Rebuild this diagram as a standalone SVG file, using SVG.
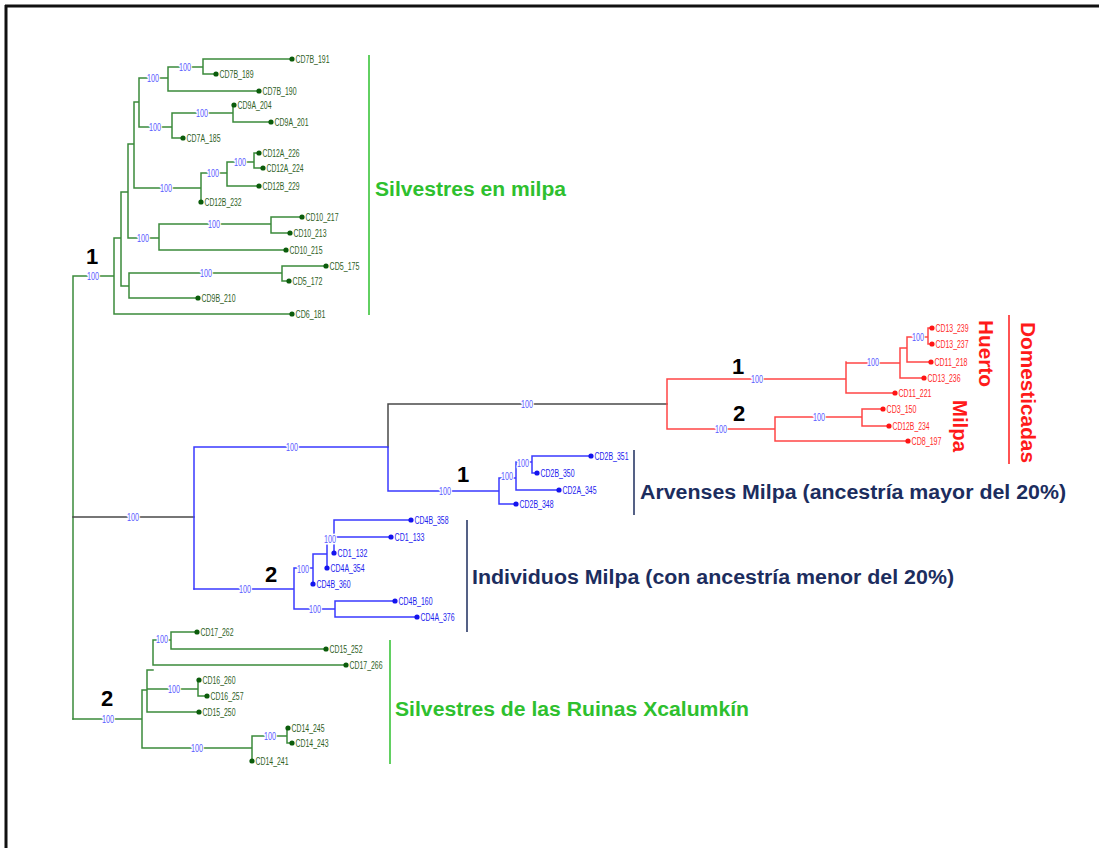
<svg xmlns="http://www.w3.org/2000/svg" width="1099" height="848" viewBox="0 0 1099 848">
<style>
.e{fill:none;stroke-width:1.5;stroke-linecap:square}
.eg{stroke:#3b8a3b}.eb{stroke:#3a3aff}.er{stroke:#ff4545}.ek{stroke:#4a4a4a}
.lf{font-family:"Liberation Sans",Arial,sans-serif;font-size:10px;lengthAdjust:spacingAndGlyphs}
.g circle{fill:#0b5c0b}.g text{fill:#2f5f1f}
.b circle{fill:#1414ee}.b text{fill:#2222ee}
.r circle{fill:#ff1414}.r text{fill:#ff2a2a}
.s{font-family:"Liberation Sans",Arial,sans-serif;font-size:10px;fill:#5b5bff;text-anchor:middle;stroke:#fff;stroke-width:3px;paint-order:stroke;stroke-linejoin:round}
.n{font-family:"Liberation Sans",Arial,sans-serif;font-size:22px;font-weight:bold;fill:#000;text-anchor:middle}
.c{font-family:"Liberation Sans",Arial,sans-serif;font-size:20px;font-weight:bold}
.cg{fill:#2ec02e}.cn{fill:#1c2d5e}.cr{fill:#ff1a1a}
</style>
<rect width="1099" height="848" fill="#fff"/>
<g id="frame">
<line x1="5" y1="6" x2="1099" y2="6" stroke="#111" stroke-width="3"/>
<line x1="6" y1="5" x2="6" y2="848" stroke="#111" stroke-width="3"/>
</g>
<g id="connectors">
<path class="e eg" d="M73,276V719M73,276H114M114,238V314M114,314H292M114,238H121M121,192V286M121,192H128M128,144V238M128,144H134M134,102V188M134,102H139M139,78V127M139,78H168M168,67V91M168,67H203M203,59V74M203,59H292M203,74H216M168,91H259M139,127H172M172,113V138M172,113H233M233,105V122M233,122H271M172,138H183M134,188H201M201,173V202M201,173H227M227,162V186M227,162H254M254,153V168M254,153H259M254,168H263M227,186H259M128,238H159M159,224V250M159,224H271M271,217V233M271,217H302M271,233H290M159,250H286M121,286H129M129,273V298M129,273H282M282,266V281M282,266H326M282,281H289M129,298H198"/>
<path class="e eg" d="M73,719H142M142,690V748M142,748H252M252,736V761M252,736H287M287,728V743M287,728H288M287,743H292M142,690H147M147,670V712M147,670H153M153,640V665M153,640H171M171,632V649M171,632H197M171,649H326M153,665H346M147,689H198M198,680V696M198,696H207M147,712H199"/>
<path class="e ek" d="M73,517H194M388,404V447M388,404H667"/>
<path class="e eb" d="M194,447V589M194,447H388M388,447V491M388,491H499M499,478V504M499,478H516M516,462V490M516,462H532M532,456V473M532,456H591M532,473H537M516,490H559M499,504H516"/>
<path class="e eb" d="M194,589H294M294,568V609M294,568H313M313,554V584M313,554H327M327,537V568M327,537H334M334,520V553M334,520H411M334,537H391M294,609H335M335,601V617M335,601H395M335,617H417"/>
<path class="e er" d="M667,379V429M667,379H846M846,362V393M846,393H895M846,363H900M900,348V378M900,378H924M900,348H907M907,337V362M907,362H931M907,337H928M928,328V344M928,328H932M928,344H932M667,429H775M775,417V441M775,441H908M775,417H862M862,409V426M862,409H883M862,426H889"/>
</g>
<g id="support">
<text class="s" x="93" y="279.5" textLength="12" lengthAdjust="spacingAndGlyphs">100</text>
<text class="s" x="153" y="81.5" textLength="12" lengthAdjust="spacingAndGlyphs">100</text>
<text class="s" x="185" y="70.5" textLength="12" lengthAdjust="spacingAndGlyphs">100</text>
<text class="s" x="155" y="130.5" textLength="12" lengthAdjust="spacingAndGlyphs">100</text>
<text class="s" x="202" y="116.5" textLength="12" lengthAdjust="spacingAndGlyphs">100</text>
<text class="s" x="166" y="191.5" textLength="12" lengthAdjust="spacingAndGlyphs">100</text>
<text class="s" x="213" y="176.5" textLength="12" lengthAdjust="spacingAndGlyphs">100</text>
<text class="s" x="240" y="165.5" textLength="12" lengthAdjust="spacingAndGlyphs">100</text>
<text class="s" x="143" y="241.5" textLength="12" lengthAdjust="spacingAndGlyphs">100</text>
<text class="s" x="214" y="227.5" textLength="12" lengthAdjust="spacingAndGlyphs">100</text>
<text class="s" x="206" y="276.5" textLength="12" lengthAdjust="spacingAndGlyphs">100</text>
<text class="s" x="133" y="520.5" textLength="12" lengthAdjust="spacingAndGlyphs">100</text>
<text class="s" x="292" y="450.5" textLength="12" lengthAdjust="spacingAndGlyphs">100</text>
<text class="s" x="527" y="407.5" textLength="12" lengthAdjust="spacingAndGlyphs">100</text>
<text class="s" x="445" y="494.5" textLength="12" lengthAdjust="spacingAndGlyphs">100</text>
<text class="s" x="507" y="479.5" textLength="12" lengthAdjust="spacingAndGlyphs">100</text>
<text class="s" x="523" y="466.5" textLength="12" lengthAdjust="spacingAndGlyphs">100</text>
<text class="s" x="245" y="592.5" textLength="12" lengthAdjust="spacingAndGlyphs">100</text>
<text class="s" x="303" y="572.5" textLength="12" lengthAdjust="spacingAndGlyphs">100</text>
<text class="s" x="330" y="542.5" textLength="12" lengthAdjust="spacingAndGlyphs">100</text>
<text class="s" x="315" y="612.5" textLength="12" lengthAdjust="spacingAndGlyphs">100</text>
<text class="s" x="757" y="382.5" textLength="12" lengthAdjust="spacingAndGlyphs">100</text>
<text class="s" x="873" y="365.5" textLength="12" lengthAdjust="spacingAndGlyphs">100</text>
<text class="s" x="918" y="340.5" textLength="12" lengthAdjust="spacingAndGlyphs">100</text>
<text class="s" x="721" y="432.5" textLength="12" lengthAdjust="spacingAndGlyphs">100</text>
<text class="s" x="819" y="420.5" textLength="12" lengthAdjust="spacingAndGlyphs">100</text>
<text class="s" x="108" y="722.5" textLength="12" lengthAdjust="spacingAndGlyphs">100</text>
<text class="s" x="197" y="751.5" textLength="12" lengthAdjust="spacingAndGlyphs">100</text>
<text class="s" x="270" y="739.5" textLength="12" lengthAdjust="spacingAndGlyphs">100</text>
<text class="s" x="162" y="642.5" textLength="12" lengthAdjust="spacingAndGlyphs">100</text>
<text class="s" x="174" y="692.5" textLength="12" lengthAdjust="spacingAndGlyphs">100</text>
</g>
<g id="clusters">
<text class="n" x="92" y="264">1</text>
<text class="n" x="107" y="706">2</text>
<text class="n" x="738" y="374">1</text>
<text class="n" x="739" y="421">2</text>
<text class="n" x="463" y="482">1</text>
<text class="n" x="271" y="582">2</text>
</g>
<g id="leaves-top" class="g">
<g id="CD7B_191"><circle cx="292" cy="59" r="2.6"/><text class="lf" x="295.5" y="62.5" textLength="34" lengthAdjust="spacingAndGlyphs">CD7B_191</text></g>
<g id="CD7B_189"><circle cx="216" cy="74" r="2.6"/><text class="lf" x="219.5" y="77.5" textLength="34" lengthAdjust="spacingAndGlyphs">CD7B_189</text></g>
<g id="CD7B_190"><circle cx="259" cy="91" r="2.6"/><text class="lf" x="262.5" y="94.5" textLength="34" lengthAdjust="spacingAndGlyphs">CD7B_190</text></g>
<g id="CD9A_204"><circle cx="234" cy="105" r="2.6"/><text class="lf" x="237.5" y="108.5" textLength="34" lengthAdjust="spacingAndGlyphs">CD9A_204</text></g>
<g id="CD9A_201"><circle cx="271" cy="122" r="2.6"/><text class="lf" x="274.5" y="125.5" textLength="34" lengthAdjust="spacingAndGlyphs">CD9A_201</text></g>
<g id="CD7A_185"><circle cx="183" cy="138" r="2.6"/><text class="lf" x="186.5" y="141.5" textLength="34" lengthAdjust="spacingAndGlyphs">CD7A_185</text></g>
<g id="CD12A_226"><circle cx="259" cy="153" r="2.6"/><text class="lf" x="262.5" y="156.5" textLength="37" lengthAdjust="spacingAndGlyphs">CD12A_226</text></g>
<g id="CD12A_224"><circle cx="263" cy="168" r="2.6"/><text class="lf" x="266.5" y="171.5" textLength="37" lengthAdjust="spacingAndGlyphs">CD12A_224</text></g>
<g id="CD12B_229"><circle cx="259" cy="186" r="2.6"/><text class="lf" x="262.5" y="189.5" textLength="37" lengthAdjust="spacingAndGlyphs">CD12B_229</text></g>
<g id="CD12B_232"><circle cx="201" cy="202" r="2.6"/><text class="lf" x="204.5" y="205.5" textLength="37" lengthAdjust="spacingAndGlyphs">CD12B_232</text></g>
<g id="CD10_217"><circle cx="302" cy="217" r="2.6"/><text class="lf" x="305.5" y="220.5" textLength="33" lengthAdjust="spacingAndGlyphs">CD10_217</text></g>
<g id="CD10_213"><circle cx="290" cy="233" r="2.6"/><text class="lf" x="293.5" y="236.5" textLength="33" lengthAdjust="spacingAndGlyphs">CD10_213</text></g>
<g id="CD10_215"><circle cx="286" cy="250" r="2.6"/><text class="lf" x="289.5" y="253.5" textLength="33" lengthAdjust="spacingAndGlyphs">CD10_215</text></g>
<g id="CD5_175"><circle cx="326" cy="266" r="2.6"/><text class="lf" x="329.5" y="269.5" textLength="30" lengthAdjust="spacingAndGlyphs">CD5_175</text></g>
<g id="CD5_172"><circle cx="289" cy="281" r="2.6"/><text class="lf" x="292.5" y="284.5" textLength="30" lengthAdjust="spacingAndGlyphs">CD5_172</text></g>
<g id="CD9B_210"><circle cx="198" cy="298" r="2.6"/><text class="lf" x="201.5" y="301.5" textLength="34" lengthAdjust="spacingAndGlyphs">CD9B_210</text></g>
<g id="CD6_181"><circle cx="292" cy="314" r="2.6"/><text class="lf" x="295.5" y="317.5" textLength="30" lengthAdjust="spacingAndGlyphs">CD6_181</text></g>
</g>
<g id="leaves-bottom" class="g">
<g id="CD17_262"><circle cx="197" cy="632" r="2.6"/><text class="lf" x="200.5" y="635.5" textLength="33" lengthAdjust="spacingAndGlyphs">CD17_262</text></g>
<g id="CD15_252"><circle cx="326" cy="649" r="2.6"/><text class="lf" x="329.5" y="652.5" textLength="33" lengthAdjust="spacingAndGlyphs">CD15_252</text></g>
<g id="CD17_266"><circle cx="346" cy="665" r="2.6"/><text class="lf" x="349.5" y="668.5" textLength="33" lengthAdjust="spacingAndGlyphs">CD17_266</text></g>
<g id="CD16_260"><circle cx="199" cy="680" r="2.6"/><text class="lf" x="202.5" y="683.5" textLength="33" lengthAdjust="spacingAndGlyphs">CD16_260</text></g>
<g id="CD16_257"><circle cx="207" cy="696" r="2.6"/><text class="lf" x="210.5" y="699.5" textLength="33" lengthAdjust="spacingAndGlyphs">CD16_257</text></g>
<g id="CD15_250"><circle cx="199" cy="712" r="2.6"/><text class="lf" x="202.5" y="715.5" textLength="33" lengthAdjust="spacingAndGlyphs">CD15_250</text></g>
<g id="CD14_245"><circle cx="288" cy="728" r="2.6"/><text class="lf" x="291.5" y="731.5" textLength="33" lengthAdjust="spacingAndGlyphs">CD14_245</text></g>
<g id="CD14_243"><circle cx="292" cy="743" r="2.6"/><text class="lf" x="295.5" y="746.5" textLength="33" lengthAdjust="spacingAndGlyphs">CD14_243</text></g>
<g id="CD14_241"><circle cx="252" cy="761" r="2.6"/><text class="lf" x="255.5" y="764.5" textLength="33" lengthAdjust="spacingAndGlyphs">CD14_241</text></g>
</g>
<g id="leaves-arvenses" class="b">
<g id="CD2B_351"><circle cx="591" cy="456" r="2.6"/><text class="lf" x="594.5" y="459.5" textLength="34" lengthAdjust="spacingAndGlyphs">CD2B_351</text></g>
<g id="CD2B_350"><circle cx="537" cy="473" r="2.6"/><text class="lf" x="540.5" y="476.5" textLength="34" lengthAdjust="spacingAndGlyphs">CD2B_350</text></g>
<g id="CD2A_345"><circle cx="559" cy="490" r="2.6"/><text class="lf" x="562.5" y="493.5" textLength="34" lengthAdjust="spacingAndGlyphs">CD2A_345</text></g>
<g id="CD2B_348"><circle cx="516" cy="504" r="2.6"/><text class="lf" x="519.5" y="507.5" textLength="34" lengthAdjust="spacingAndGlyphs">CD2B_348</text></g>
</g>
<g id="leaves-individuos" class="b">
<g id="CD4B_358"><circle cx="411" cy="520" r="2.6"/><text class="lf" x="414.5" y="523.5" textLength="34" lengthAdjust="spacingAndGlyphs">CD4B_358</text></g>
<g id="CD1_133"><circle cx="391" cy="537" r="2.6"/><text class="lf" x="394.5" y="540.5" textLength="30" lengthAdjust="spacingAndGlyphs">CD1_133</text></g>
<g id="CD1_132"><circle cx="334" cy="553" r="2.6"/><text class="lf" x="337.5" y="556.5" textLength="30" lengthAdjust="spacingAndGlyphs">CD1_132</text></g>
<g id="CD4A_354"><circle cx="327" cy="568" r="2.6"/><text class="lf" x="330.5" y="571.5" textLength="34" lengthAdjust="spacingAndGlyphs">CD4A_354</text></g>
<g id="CD4B_360"><circle cx="313" cy="584" r="2.6"/><text class="lf" x="316.5" y="587.5" textLength="34" lengthAdjust="spacingAndGlyphs">CD4B_360</text></g>
<g id="CD4B_160"><circle cx="395" cy="601" r="2.6"/><text class="lf" x="398.5" y="604.5" textLength="34" lengthAdjust="spacingAndGlyphs">CD4B_160</text></g>
<g id="CD4A_376"><circle cx="417" cy="617" r="2.6"/><text class="lf" x="420.5" y="620.5" textLength="34" lengthAdjust="spacingAndGlyphs">CD4A_376</text></g>
</g>
<g id="leaves-domesticadas" class="r">
<g id="CD13_239"><circle cx="932" cy="328" r="2.6"/><text class="lf" x="935.5" y="331.5" textLength="33" lengthAdjust="spacingAndGlyphs">CD13_239</text></g>
<g id="CD13_237"><circle cx="932" cy="344" r="2.6"/><text class="lf" x="935.5" y="347.5" textLength="33" lengthAdjust="spacingAndGlyphs">CD13_237</text></g>
<g id="CD11_218"><circle cx="931" cy="362" r="2.6"/><text class="lf" x="934.5" y="365.5" textLength="33" lengthAdjust="spacingAndGlyphs">CD11_218</text></g>
<g id="CD13_236"><circle cx="924" cy="378" r="2.6"/><text class="lf" x="927.5" y="381.5" textLength="33" lengthAdjust="spacingAndGlyphs">CD13_236</text></g>
<g id="CD11_221"><circle cx="895" cy="393" r="2.6"/><text class="lf" x="898.5" y="396.5" textLength="33" lengthAdjust="spacingAndGlyphs">CD11_221</text></g>
<g id="CD3_150"><circle cx="883" cy="409" r="2.6"/><text class="lf" x="886.5" y="412.5" textLength="30" lengthAdjust="spacingAndGlyphs">CD3_150</text></g>
<g id="CD12B_234"><circle cx="889" cy="426" r="2.6"/><text class="lf" x="892.5" y="429.5" textLength="37" lengthAdjust="spacingAndGlyphs">CD12B_234</text></g>
<g id="CD8_197"><circle cx="908" cy="441" r="2.6"/><text class="lf" x="911.5" y="444.5" textLength="30" lengthAdjust="spacingAndGlyphs">CD8_197</text></g>
</g>
<g id="group-labels">
<g id="silvestres-milpa"><line x1="369" y1="55" x2="369" y2="315" stroke="#2ec02e" stroke-width="1.5"/><text class="c cg" x="375" y="196" textLength="191" lengthAdjust="spacingAndGlyphs">Silvestres en milpa</text></g>
<g id="arvenses"><line x1="634" y1="450" x2="634" y2="515" stroke="#1c2d5e" stroke-width="1.5"/><text class="c cn" x="640" y="499" textLength="426" lengthAdjust="spacingAndGlyphs">Arvenses Milpa (ancestría mayor del 20%)</text></g>
<g id="individuos"><line x1="467" y1="520" x2="467" y2="632" stroke="#1c2d5e" stroke-width="1.5"/><text class="c cn" x="472" y="584" textLength="482" lengthAdjust="spacingAndGlyphs">Individuos Milpa (con ancestría menor del 20%)</text></g>
<g id="ruinas"><line x1="390" y1="640" x2="390" y2="764" stroke="#2ec02e" stroke-width="1.5"/><text class="c cg" x="395" y="716" textLength="354" lengthAdjust="spacingAndGlyphs">Silvestres de las Ruinas Xcalumkín</text></g>
<g id="domesticadas"><line x1="1009" y1="315" x2="1009" y2="464" stroke="#ff1a1a" stroke-width="1.5"/>
<text class="c cr" transform="translate(979,320) rotate(90)" textLength="67" lengthAdjust="spacingAndGlyphs">Huerto</text>
<text class="c cr" transform="translate(953,400) rotate(90)" textLength="52" lengthAdjust="spacingAndGlyphs">Milpa</text>
<text class="c cr" transform="translate(1021,322) rotate(90)" textLength="141" lengthAdjust="spacingAndGlyphs">Domesticadas</text>
</g>
</g>
</svg>
